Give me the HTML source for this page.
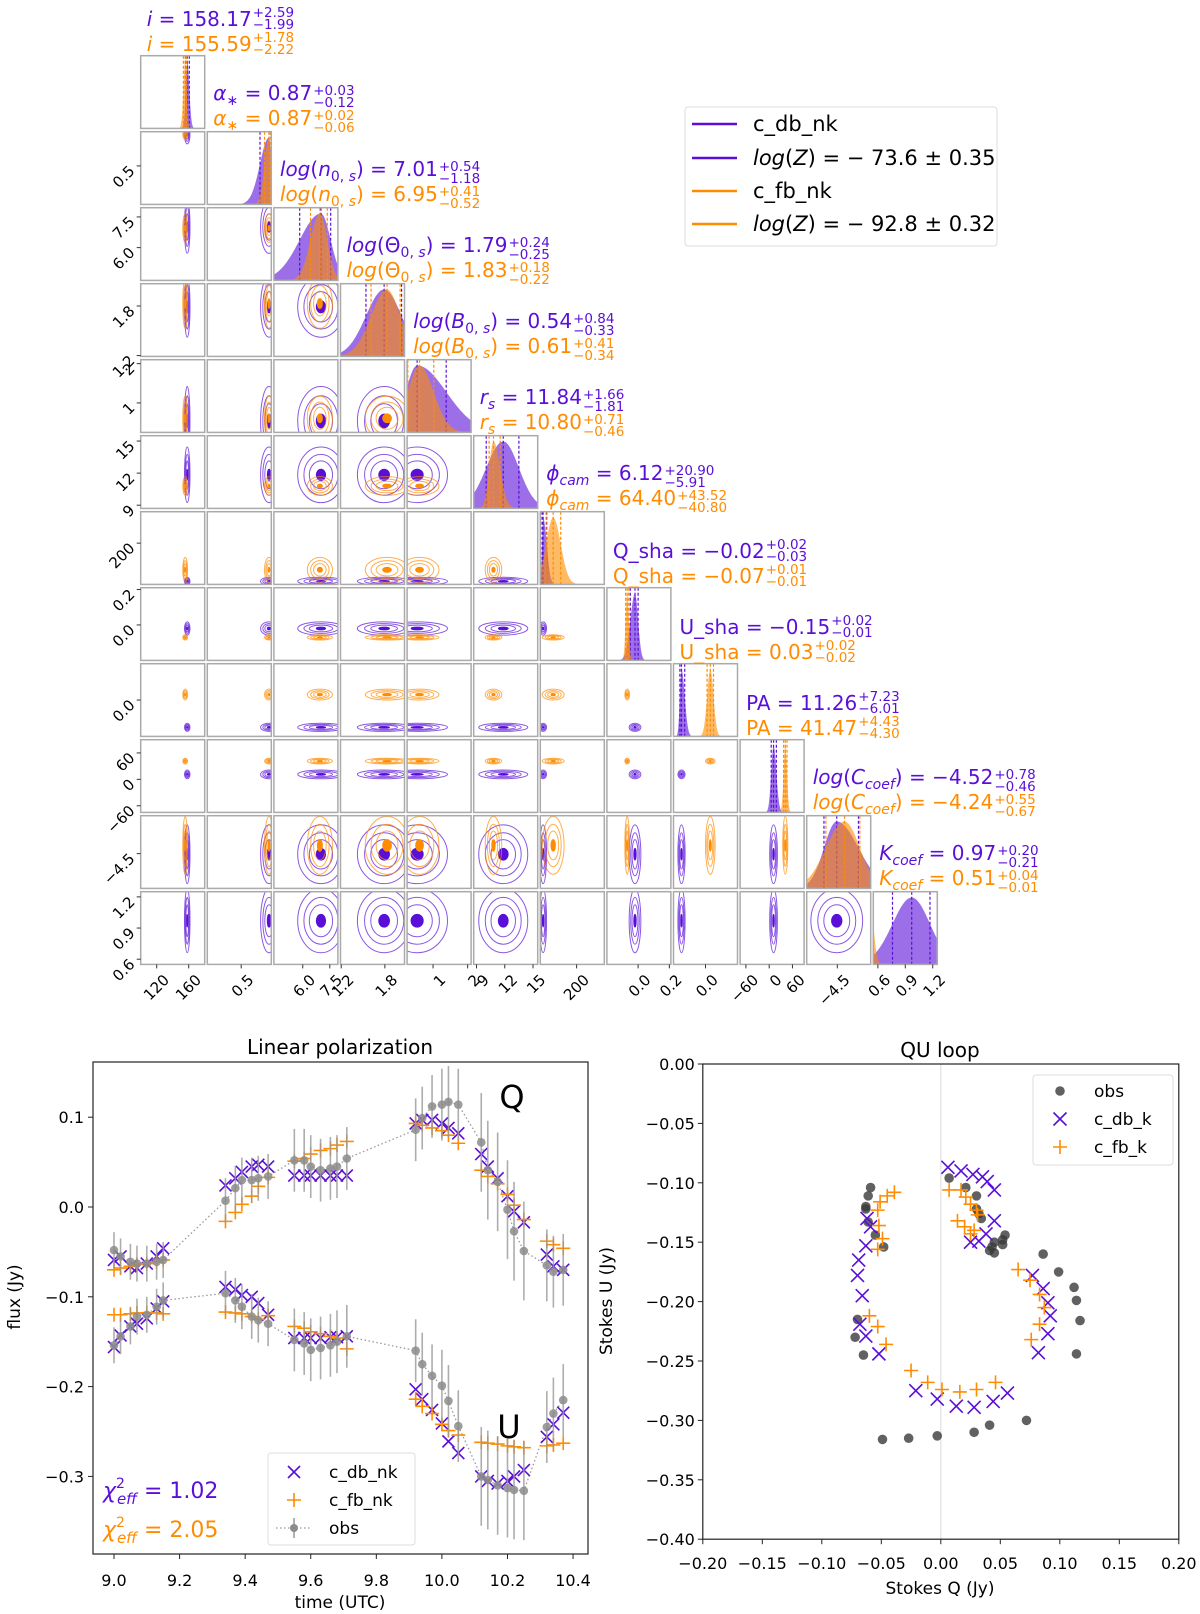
<!DOCTYPE html>
<html><head><meta charset="utf-8">
<style>
html,body{margin:0;padding:0;background:#fff;}
body{width:1200px;height:1614px;position:relative;overflow:hidden;font-family:"DejaVu Sans","Liberation Sans",sans-serif;}
svg text{font-family:"DejaVu Sans","Liberation Sans",sans-serif;}
.t{position:absolute;font-size:20px;white-space:nowrap;display:flex;align-items:center;line-height:20px;}
.t i{font-style:italic;}
.st{display:inline-flex;flex-direction:column;font-size:13.5px;line-height:12px;margin-left:1px;}
.t sub{font-size:14px;}
</style></head>
<body>
<svg id="fig" width="1200" height="1614" xmlns="http://www.w3.org/2000/svg" style="position:absolute;left:0;top:0">
<defs id="defs"></defs>
<g id="corner"></g>
<g id="ts"></g>
<g id="qu"></g>
<g>
<rect x="685" y="107" width="312" height="139" rx="3" fill="#fff" stroke="#ddd"/>
<line x1="692" y1="124" x2="737" y2="124" stroke="#5a0fd9" stroke-width="2.5"/>
<line x1="692" y1="158" x2="737" y2="158" stroke="#5a0fd9" stroke-width="2.5"/>
<line x1="692" y1="191" x2="737" y2="191" stroke="#ff8c00" stroke-width="2.5"/>
<line x1="692" y1="224" x2="737" y2="224" stroke="#ff8c00" stroke-width="2.5"/>
<text x="753" y="131" font-size="21">c_db_nk</text>
<text x="753" y="165" font-size="21"><tspan font-style="italic">log</tspan>(<tspan font-style="italic">Z</tspan>) = − 73.6 ± 0.35</text>
<text x="753" y="198" font-size="21">c_fb_nk</text>
<text x="753" y="231" font-size="21"><tspan font-style="italic">log</tspan>(<tspan font-style="italic">Z</tspan>) = − 92.8 ± 0.32</text>
</g>
</svg>
<div id="titles"></div>
<script>
// ===== Corner plot data =====
const paramLabels = ['<i>i</i>','<i>α</i><sub>∗</sub> ','<i>log</i>(<i>n</i><sub>0, <i>s</i></sub>)','<i>log</i>(Θ<sub>0, <i>s</i></sub>)','<i>log</i>(<i>B</i><sub>0, <i>s</i></sub>)','<i>r</i><sub><i>s</i></sub>','<i>ϕ</i><sub><i>cam</i></sub>','Q_sha','U_sha','PA','<i>log</i>(<i>C</i><sub><i>coef</i></sub>)','<i>K</i><sub><i>coef</i></sub>'];
const dbMed = [158.17,0.87,7.01,1.79,0.54,11.84,6.12,-0.02,-0.15,11.26,-4.52,0.97];
const dbHi  = [2.59,0.03,0.54,0.24,0.84,1.66,20.90,0.02,0.02,7.23,0.78,0.20];
const dbLo  = [1.99,0.12,1.18,0.25,0.33,1.81,5.91,0.03,0.01,6.01,0.46,0.21];
const fbMed = [155.59,0.87,6.95,1.83,0.61,10.80,64.40,-0.07,0.03,41.47,-4.24,0.51];
const fbHi  = [1.78,0.02,0.41,0.18,0.41,0.71,43.52,0.01,0.02,4.43,0.55,0.04];
const fbLo  = [2.22,0.06,0.52,0.22,0.34,0.46,40.80,0.01,0.02,4.30,0.67,0.01];
const rngLo = [100,0.05,4.4,1.19,0.25,8.7,-10,-0.2,-0.2,-75,-5.6,0.55];
const rngHi = [180,0.9,7.95,2.07,2.1,15.5,360,0.21,0.2,90,-3.3,1.25];
const yTickVals = [[],[0.5],[7.5,6.0],[1.8,1.2],[2,1],[15,12,9],[200],[0.2,0.0],[0.0],[60,0,-60],[-4.5],[1.2,0.9,0.6]];
const yTickText = [[],['0.5'],['7.5','6.0'],['1.8','1.2'],['2','1'],['15','12','9'],['200'],['0.2','0.0'],['0.0'],['60','0','−60'],['−4.5'],['1.2','0.9','0.6']];
const xTickVals = [[120,160],[0.5],[6.0,7.5],[1.2,1.8],[1,2],[9,12,15],[200],[0.0,0.2],[0.0],[-60,0,60],[-4.5],[0.6,0.9,1.2]];
const xTickText = [['120','160'],['0.5'],['6.0','7.5'],['1.2','1.8'],['1','2'],['9','12','15'],['200'],['0.0','0.2'],['0.0'],['−60','0','60'],['−4.5'],['0.6','0.9','1.2']];

// ===== Time series data =====
const times = [9.00,9.02,9.05,9.07,9.10,9.13,9.15, 9.34,9.37,9.39,9.42,9.44,9.47, 9.55,9.58,9.60,9.63,9.66,9.68,9.71, 9.92,9.94,9.97,10.00,10.02,10.05, 10.12,10.14,10.17,10.20,10.22,10.25, 10.32,10.34,10.37];
const obsQ = [-0.048,-0.055,-0.061,-0.063,-0.063,-0.061,-0.059, 0.007,0.021,0.030,0.030,0.032,0.034, 0.052,0.052,0.045,0.041,0.043,0.045,0.054, 0.086,0.099,0.112,0.114,0.117,0.114, 0.072,0.041,0.028,-0.003,-0.027,-0.049, -0.065,-0.072,-0.070];
const dbQ = [-0.059,-0.055,-0.066,-0.068,-0.063,-0.055,-0.046, 0.024,0.032,0.039,0.045,0.047,0.045, 0.035,0.035,0.035,0.035,0.035,0.035,0.035, 0.093,0.097,0.097,0.093,0.088,0.082, 0.059,0.045,0.032,0.012,-0.005,-0.017, -0.053,-0.066,-0.070];
const fbQ = [-0.070,-0.068,-0.066,-0.064,-0.063,-0.061,-0.059, -0.016,-0.006,0.003,0.012,0.023,0.033, 0.051,0.054,0.059,0.063,0.065,0.069,0.073, 0.093,0.091,0.088,0.085,0.080,0.071, 0.041,0.034,0.026,0.014,0.002,-0.014, -0.038,-0.042,-0.046];
const obsU = [-0.154,-0.144,-0.133,-0.122,-0.120,-0.111,-0.104, -0.096,-0.104,-0.111,-0.122,-0.126,-0.130, -0.148,-0.152,-0.159,-0.157,-0.154,-0.150,-0.144, -0.160,-0.175,-0.188,-0.199,-0.216,-0.244, -0.300,-0.304,-0.310,-0.313,-0.315,-0.316, -0.245,-0.230,-0.215];
const dbU = [-0.156,-0.143,-0.133,-0.130,-0.124,-0.113,-0.105, -0.089,-0.092,-0.098,-0.100,-0.107,-0.120, -0.146,-0.146,-0.146,-0.146,-0.145,-0.145,-0.144, -0.203,-0.214,-0.226,-0.241,-0.261,-0.274, -0.300,-0.305,-0.308,-0.305,-0.300,-0.293, -0.256,-0.242,-0.229];
const fbU = [-0.120,-0.120,-0.119,-0.118,-0.118,-0.118,-0.119, -0.117,-0.118,-0.119,-0.122,-0.125,-0.121, -0.133,-0.135,-0.139,-0.141,-0.144,-0.146,-0.158, -0.214,-0.222,-0.230,-0.242,-0.249,-0.254, -0.262,-0.263,-0.264,-0.266,-0.267,-0.268, -0.266,-0.265,-0.263];
const obsErr = [0.02,0.02,0.02,0.02,0.02,0.02,0.02, 0.025,0.025,0.025,0.025,0.025,0.025, 0.035,0.035,0.035,0.035,0.035,0.035,0.035, 0.035,0.035,0.035,0.04,0.04,0.04, 0.055,0.055,0.055,0.055,0.055,0.055, 0.04,0.04,0.04];
const tsXTicks = [9.0,9.2,9.4,9.6,9.8,10.0,10.2,10.4];
const tsYTicks = [0.1,0.0,-0.1,-0.2,-0.3];

// ===== QU loop data =====
const dbkQ = [0.006,0.017,0.027,0.035,0.039,0.045,0.045,0.038,0.032,0.025,-0.062,-0.059,-0.063,-0.069,-0.070,-0.066,-0.068,-0.063,-0.052,-0.021,-0.003,0.013,0.028,0.044,0.056,0.077,0.086,0.090,0.092,0.090,0.082];
const dbkU = [-0.087,-0.090,-0.093,-0.095,-0.099,-0.106,-0.132,-0.143,-0.149,-0.150,-0.130,-0.137,-0.153,-0.165,-0.178,-0.195,-0.219,-0.229,-0.244,-0.275,-0.282,-0.288,-0.289,-0.284,-0.277,-0.178,-0.189,-0.201,-0.212,-0.227,-0.243];
const fbkQ = [0.007,0.017,0.021,0.025,0.030,0.031,0.014,0.020,0.025,0.028,-0.039,-0.045,-0.051,-0.053,-0.052,-0.049,-0.053,-0.060,-0.053,-0.046,-0.025,-0.011,0.001,0.016,0.030,0.046,0.065,0.075,0.083,0.087,0.083,0.076];
const fbkU = [-0.106,-0.106,-0.112,-0.118,-0.123,-0.127,-0.132,-0.137,-0.143,-0.140,-0.108,-0.111,-0.116,-0.123,-0.136,-0.147,-0.156,-0.212,-0.221,-0.236,-0.258,-0.268,-0.274,-0.276,-0.274,-0.268,-0.173,-0.182,-0.194,-0.205,-0.219,-0.232];
const quXTicks = [-0.20,-0.15,-0.10,-0.05,0.00,0.05,0.10,0.15,0.20];
const quYTicks = [0.00,-0.05,-0.10,-0.15,-0.20,-0.25,-0.30,-0.35,-0.40];

const NS='http://www.w3.org/2000/svg';
const PUR='#5a0fd9', ORA='#ff8c00';
function mk(tag, attrs, parent){const e=document.createElementNS(NS,tag);for(const k in attrs)e.setAttribute(k,attrs[k]);parent.appendChild(e);return e;}
function fmt(v){return (v<0?'−':'')+Math.abs(v).toFixed(2);}

// ===== Corner =====
const corner=document.getElementById('corner');
const defs=document.getElementById('defs');
const CL=j=>140.7+66.6*j, RT=i=>55.7+76*i, W=64, H=72.7, N=12;
function px(j,v){return CL(j)+W*(v-rngLo[j])/(rngHi[j]-rngLo[j]);}
function py(i,v){return RT(i)+H*(1-(v-rngLo[i])/(rngHi[i]-rngLo[i]));}
for(let r=0;r<N;r++){for(let c=0;c<=r;c++){
  const cp=mk('clipPath',{id:'cp'+r+'_'+c},defs);
  mk('rect',{x:CL(c),y:RT(r),width:W,height:H},cp);
  const g=mk('g',{'clip-path':'url(#cp'+r+'_'+c+')'},corner);
  
  
  if(r===c){
    const models=[[dbMed,dbHi,dbLo,PUR],[fbMed,fbHi,fbLo,ORA]];
    models.forEach(([m,hi,lo,col])=>{
      let pts=[];const x0=CL(c),b=RT(r)+H;
      for(let k=0;k<=80;k++){const v=rngLo[c]+(rngHi[c]-rngLo[c])*k/80;const s=v>m[c]?hi[c]:lo[c];const f=Math.exp(-0.5*((v-m[c])/s)**2);pts.push(px(c,v).toFixed(1)+','+(b-0.92*H*f).toFixed(1));}
      const poly=mk('polygon',{points:x0+','+b+' '+pts.join(' ')+' '+(x0+W)+','+b,fill:col,'fill-opacity':0.6,stroke:'none'},g);
      
      
      [m[c]-lo[c],m[c],m[c]+hi[c]].forEach(v=>{
        const ln=mk('line',{x1:px(c,v),x2:px(c,v),y1:RT(r),y2:b,stroke:col,'stroke-width':1.2,'stroke-dasharray':'3,2'},g);
        
        
      });
    });
  } else {
    const models=[[dbMed,dbHi,dbLo,PUR],[fbMed,fbHi,fbLo,ORA]];
    models.forEach(([m,hi,lo,col])=>{
      const cx=px(c,m[c]), cy=py(r,m[r]);
      const sx=Math.max(1.2,W*(hi[c]+lo[c])/2/(rngHi[c]-rngLo[c]));
      const sy=Math.max(1.2,H*(hi[r]+lo[r])/2/(rngHi[r]-rngLo[r]));
      [1.5,1.1,0.75].forEach(k=>{
        const e=mk('ellipse',{cx:cx,cy:cy,rx:sx*k,ry:sy*k,fill:'none',stroke:col,'stroke-width':1,'stroke-opacity':0.7},g);
        
        
      });
      const core=mk('ellipse',{cx:cx,cy:cy,rx:sx*0.3,ry:sy*0.3,fill:col,stroke:col},g);
      
      
    });
  }
  const fr=mk('rect',{x:CL(c),y:RT(r),width:W,height:H,fill:'none',stroke:'#aaa','stroke-width':1.5},corner);
  
  
}}
// corner ticks
for(let r=1;r<N;r++){yTickVals[r].forEach((v,k)=>{const y=py(r,v);
  mk('line',{x1:CL(0)-4,x2:CL(0),y1:y,y2:y,stroke:'#333'},corner);
  const t=mk('text',{x:CL(0)-5,y:y+6,'text-anchor':'end','font-size':15,transform:'rotate(-45 '+(CL(0)-5)+' '+(y+6)+')'},corner);
  t.textContent=yTickText[r][k];
  
  
});}
for(let c=0;c<N;c++){xTickVals[c].forEach((v,k)=>{const x=px(c,v);const yb=RT(11)+H;
  mk('line',{x1:x,x2:x,y1:yb,y2:yb+4,stroke:'#333'},corner);
  const t=mk('text',{x:x+5,y:yb+8,'text-anchor':'end','font-size':15,transform:'rotate(-45 '+(x+5)+' '+(yb+8)+')',dy:'0.8em'},corner);
  t.textContent=xTickText[c][k];
  
  
});}
// titles
const titles=document.getElementById('titles');
for(let k=0;k<N;k++){
  [[dbMed,dbHi,dbLo,PUR,-33],[fbMed,fbHi,fbLo,ORA,-8]].forEach(([m,hi,lo,col,off])=>{
    const d=document.createElement('div');
    d.className='t';
    
    
    d.style.color=col;d.style.left=(CL(k)+6)+'px';d.style.top=(RT(k)+off-16)+'px';
    d.innerHTML='<span>'+paramLabels[k]+' = '+fmt(m[k])+'</span><span class="st"><span>+'+hi[k].toFixed(2)+'</span><span>−'+lo[k].toFixed(2)+'</span></span>';
    titles.appendChild(d);
  });
}

// ===== Time series =====
const ts=document.getElementById('ts');
const X=t=>114+327.9*(t-9), Y=v=>1207-898*v;
mk('rect',{x:93,y:1062,width:495,height:492,fill:'none',stroke:'#222','stroke-width':1.2},ts);
let tt=mk('text',{x:340,y:1054,'text-anchor':'middle','font-size':20},ts);tt.textContent='Linear polarization';


tsXTicks.forEach(v=>{mk('line',{x1:X(v),x2:X(v),y1:1554,y2:1559,stroke:'#222'},ts);
  const t=mk('text',{x:X(v),y:1586,'text-anchor':'middle','font-size':16},ts);t.textContent=v.toFixed(1);
  
  });
tsYTicks.forEach(v=>{mk('line',{x1:88,x2:93,y1:Y(v),y2:Y(v),stroke:'#222'},ts);
  const t=mk('text',{x:84,y:Y(v)+6,'text-anchor':'end','font-size':16},ts);t.textContent=v.toFixed(1).replace('-','−');
  
  });
tt=mk('text',{x:340,y:1608,'text-anchor':'middle','font-size':17},ts);tt.textContent='time (UTC)';


tt=mk('text',{x:0,y:0,'text-anchor':'middle','font-size':17,transform:'translate(20 1297) rotate(-90)'},ts);tt.textContent='flux (Jy)';


function xmark(g,x,y,col,s){mk('path',{d:`M${x-s},${y-s}L${x+s},${y+s}M${x-s},${y+s}L${x+s},${y-s}`,stroke:col,'stroke-width':1.6,fill:'none'},g);}
function pmark(g,x,y,col,s){mk('path',{d:`M${x-s},${y}L${x+s},${y}M${x},${y-s}L${x},${y+s}`,stroke:col,'stroke-width':1.6,fill:'none'},g);}
[obsQ,obsU].forEach(arr=>{
  const line=mk('polyline',{points:times.map((t,i)=>X(t)+','+Y(arr[i])).join(' '),fill:'none',stroke:'#999','stroke-width':1.3,'stroke-dasharray':'1.5,2.5'},ts);
  
  
});
[[dbQ,dbU,PUR,'x'],[fbQ,fbU,ORA,'+']].forEach(([q,u,col,m])=>{
  const g=mk('g',{},ts);
  
  
  times.forEach((t,i)=>{[q[i],u[i]].forEach(v=>{m==='x'?xmark(g,X(t),Y(v),col,6):pmark(g,X(t),Y(v),col,7);});});
});
const og=mk('g',{},ts);


times.forEach((t,i)=>{[obsQ[i],obsU[i]].forEach(v=>{
  mk('line',{x1:X(t),x2:X(t),y1:Y(v+obsErr[i]),y2:Y(v-obsErr[i]),stroke:'#999','stroke-width':1.6,'stroke-opacity':0.8},og);
  mk('circle',{cx:X(t),cy:Y(v),r:4.3,fill:'#8c8c8c','fill-opacity':0.85},og);
});});
tt=mk('text',{x:512,y:1108,'text-anchor':'middle','font-size':32},ts);tt.textContent='Q';


tt=mk('text',{x:509,y:1438,'text-anchor':'middle','font-size':32},ts);tt.textContent='U';


// chi labels
[[PUR,'1.02',1498],[ORA,'2.05',1537]].forEach(([col,val,y])=>{
  const t=mk('text',{x:103,y:y,'font-size':22,fill:col},ts);
  t.innerHTML='<tspan font-style="italic">χ</tspan><tspan font-size="14" dy="-10">2</tspan><tspan font-size="15" font-style="italic" dy="16" dx="-8">eff</tspan><tspan dy="-6"> = '+val+'</tspan>';
  
  
});
// ts legend
const lg=mk('g',{},ts);


mk('rect',{x:268,y:1453,width:147,height:92,rx:3,fill:'#fff','fill-opacity':0.85,stroke:'#ddd'},lg);
xmark(lg,294,1472,PUR,6);pmark(lg,294,1500,ORA,7);
mk('line',{x1:276,x2:312,y1:1528,y2:1528,stroke:'#999','stroke-dasharray':'1.5,2.5','stroke-width':1.3},lg);
mk('line',{x1:294,x2:294,y1:1518,y2:1538,stroke:'#999','stroke-width':1.5},lg);
mk('circle',{cx:294,cy:1528,r:4,fill:'#8c8c8c'},lg);
[['c_db_nk',1478],['c_fb_nk',1506],['obs',1534]].forEach(([s,y])=>{const t=mk('text',{x:329,y:y,'font-size':17},lg);t.textContent=s;
  
  });

// ===== QU loop =====
const qu=document.getElementById('qu');
const QX=q=>940.8+1190*q, QY=u=>1064-1188*u;
mk('line',{x1:QX(0),x2:QX(0),y1:1064,y2:1539,stroke:'#e6e6e6','stroke-width':1.5},qu);
mk('rect',{x:QX(-0.2),y:1064,width:QX(0.2)-QX(-0.2),height:QY(-0.4)-1064,fill:'none',stroke:'#222','stroke-width':1.2},qu);
tt=mk('text',{x:940,y:1057,'text-anchor':'middle','font-size':20},qu);tt.textContent='QU loop';


quXTicks.forEach(v=>{mk('line',{x1:QX(v),x2:QX(v),y1:QY(-0.4),y2:QY(-0.4)+5,stroke:'#222'},qu);
  const t=mk('text',{x:QX(v),y:1569,'text-anchor':'middle','font-size':16},qu);t.textContent=v.toFixed(2).replace('-','−');
  
  });
quYTicks.forEach(v=>{mk('line',{x1:QX(-0.2)-5,x2:QX(-0.2),y1:QY(v),y2:QY(v),stroke:'#222'},qu);
  const t=mk('text',{x:QX(-0.2)-8,y:QY(v)+6,'text-anchor':'end','font-size':16},qu);t.textContent=v.toFixed(2).replace('-','−');
  
  });
tt=mk('text',{x:940,y:1594,'text-anchor':'middle','font-size':17},qu);tt.textContent='Stokes Q (Jy)';


tt=mk('text',{x:0,y:0,'text-anchor':'middle','font-size':17,transform:'translate(612 1301) rotate(-90)'},qu);tt.textContent='Stokes U (Jy)';


const qo=mk('g',{},qu);


obsQ.forEach((q,i)=>mk('circle',{cx:QX(q),cy:QY(obsU[i]),r:4.8,fill:'#3a3a3a','fill-opacity':0.8},qo));
const qd=mk('g',{},qu);


dbkQ.forEach((q,i)=>xmark(qd,QX(q),QY(dbkU[i]),PUR,6.5));
const qf=mk('g',{},qu);


fbkQ.forEach((q,i)=>pmark(qf,QX(q),QY(fbkU[i]),ORA,7));
const ql=mk('g',{},qu);


mk('rect',{x:1033,y:1075,width:140,height:90,rx:3,fill:'#fff','fill-opacity':0.85,stroke:'#ddd'},ql);
mk('circle',{cx:1060,cy:1091,r:4.8,fill:'#3a3a3a','fill-opacity':0.8},ql);
xmark(ql,1060,1119,PUR,6.5);pmark(ql,1060,1147,ORA,7);
[['obs',1097],['c_db_k',1125],['c_fb_k',1153]].forEach(([s,y])=>{const t=mk('text',{x:1094,y:y,'font-size':17},ql);t.textContent=s;
  
  });
</script>
</body></html>
